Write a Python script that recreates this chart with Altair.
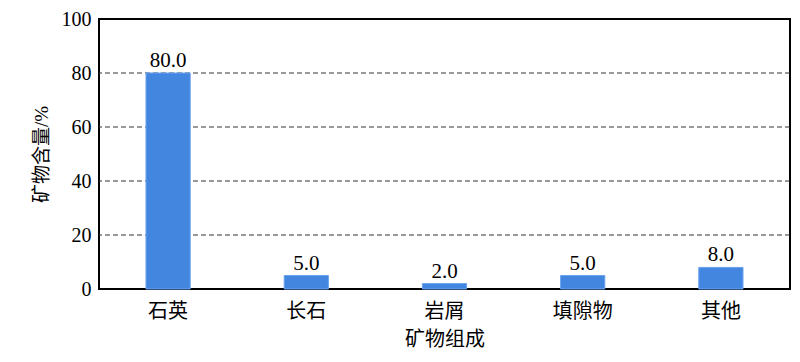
import altair as alt
import pandas as pd

categories = ["石英", "长石", "岩屑", "填隙物", "其他"]
values = [80.0, 5.0, 2.0, 5.0, 8.0]

df = pd.DataFrame({"cat": categories, "val": values})
FONT = "Liberation Serif, Noto Sans CJK SC"

base = alt.Chart(df).encode(
    x=alt.X("cat:N", sort=categories, title="矿物组成",
            scale=alt.Scale(paddingInner=0.68, paddingOuter=0.34),
            axis=alt.Axis(labelAngle=0, ticks=False, domain=False, labelPadding=12,
                          labelFontSize=20, titleFontSize=20, titleFontWeight="normal",
                          labelFont=FONT, titleFont=FONT, labelColor="black",
                          titleColor="black", titlePadding=8)),
)

bars = base.mark_bar(color="#4286E0", stroke="#6aa2ee", strokeWidth=1).encode(
    y=alt.Y("val:Q", title="矿物含量/%",
            scale=alt.Scale(domain=[0, 100], nice=False),
            axis=alt.Axis(values=[0, 20, 40, 60, 80, 100], ticks=False, domain=False,
                          grid=False, labelPadding=8, labelFontSize=20, titleFontSize=19,
                          titleFontWeight="normal", labelFont=FONT, titleFont=FONT,
                          labelColor="black", titleColor="black", titlePadding=10)),
)

grid = alt.Chart(pd.DataFrame({"g": [20, 40, 60, 80]})).mark_rule(
    color="#333333", strokeDash=[5, 3], strokeWidth=1
).encode(y=alt.Y("g:Q", scale=alt.Scale(domain=[0, 100], nice=False)))

text = base.mark_text(baseline="bottom", dy=-2, fontSize=21, font=FONT, color="black").encode(
    y=alt.Y("val:Q"),
    text=alt.Text("val:Q", format=".1f"),
)

chart = alt.layer(grid, bars, text).properties(
    width=691, height=270,
    background="white",
    autosize=alt.AutoSizeParams(type="none"),
    padding={"left": 91, "top": 11, "right": 2, "bottom": 64},
).configure_view(stroke="black", strokeWidth=2)

chart.save("out.html", embed_options={"renderer": "svg", "actions": False})
